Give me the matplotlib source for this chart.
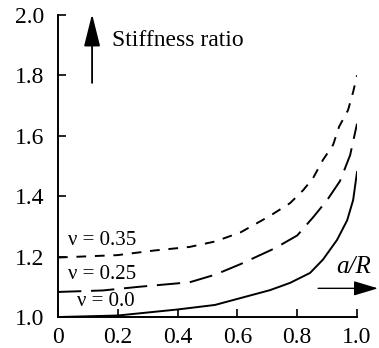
import matplotlib
matplotlib.use("Agg")
import matplotlib.pyplot as plt

plt.rcParams['font.family'] = ['Liberation Serif', 'DejaVu Serif']

# Stiffness ratio vs a/R for three Poisson ratios
x_nu035 = [0.0, 0.2, 0.32, 0.44, 0.525, 0.61, 0.709, 0.776, 0.82, 0.853, 0.886, 0.92, 0.94, 0.97, 0.987, 1.0]
y_nu035 = [1.197, 1.205, 1.22, 1.232, 1.25, 1.28, 1.335, 1.377, 1.42, 1.46, 1.52, 1.57, 1.63, 1.685, 1.745, 1.80]

x_nu025 = [0.0, 0.15, 0.27, 0.44, 0.525, 0.61, 0.726, 0.8, 0.853, 0.9, 0.943, 0.977, 1.0]
y_nu025 = [1.083, 1.088, 1.10, 1.115, 1.14, 1.175, 1.228, 1.27, 1.33, 1.387, 1.45, 1.536, 1.64]

x_nu00 = [0.0, 0.2, 0.4, 0.525, 0.6, 0.709, 0.776, 0.843, 0.886, 0.933, 0.967, 0.987, 1.0]
y_nu00 = [1.0, 1.005, 1.025, 1.04, 1.06, 1.089, 1.113, 1.146, 1.19, 1.255, 1.32, 1.387, 1.48]

x_ticks = [0, 0.2, 0.4, 0.6, 0.8, 1.0]
x_ticklabels = ['0', '0.2', '0.4', '0.6', '0.8', '1.0']
y_ticks = [1.0, 1.2, 1.4, 1.6, 1.8, 2.0]
y_ticklabels = ['1.0', '1.2', '1.4', '1.6', '1.8', '2.0']

fig = plt.figure(figsize=(3.79, 3.48), dpi=100)
ax = fig.add_axes([0.153, 0.089, 0.789, 0.868])

lw = 1.4
ax.plot(x_nu035, y_nu035, color='black', lw=lw, dashes=(5, 4.5))
ax.plot(x_nu025, y_nu025, color='black', lw=lw, dashes=(12, 5))
ax.plot(x_nu00, y_nu00, color='black', lw=lw)

ax.set_xlim(0, 1.0)
ax.set_ylim(1.0, 2.0)
ax.set_xticks(x_ticks)
ax.set_xticklabels(x_ticklabels)
ax.set_yticks(y_ticks)
ax.set_yticklabels(y_ticklabels)
ax.tick_params(direction='in', length=6, width=1.2, labelsize=17)
ax.tick_params(axis='x', pad=7)
ax.tick_params(axis='y', pad=10)
for side in ('top', 'right'):
    ax.spines[side].set_visible(False)
for side in ('left', 'bottom'):
    ax.spines[side].set_linewidth(1.4)

# Axis arrows and titles
ax.annotate('', xy=(0.114, 2.003), xytext=(0.114, 1.775),
            arrowprops=dict(arrowstyle='-|>,head_length=2.0,head_width=0.5',
                            color='black', lw=1.3, shrinkA=0, shrinkB=0),
            annotation_clip=False)
ax.text(0.18, 1.917, 'Stiffness ratio', fontsize=17, va='center', ha='left')

ax.annotate('', xy=(1.07, 1.095), xytext=(0.87, 1.095),
            arrowprops=dict(arrowstyle='-|>,head_length=1.5,head_width=0.45',
                            color='black', lw=1.0, shrinkA=0, shrinkB=0),
            annotation_clip=False)
ax.text(0.99, 1.166, 'a/R', fontsize=18, style='italic', va='center', ha='center')

ax.text(0.035, 1.255, 'ν = 0.35', fontsize=15, va='center', ha='left')
ax.text(0.035, 1.142, 'ν = 0.25', fontsize=15, va='center', ha='left')
ax.text(0.063, 1.05, 'ν = 0.0', fontsize=15, va='center', ha='left')

fig.savefig('out.png', dpi=100)
